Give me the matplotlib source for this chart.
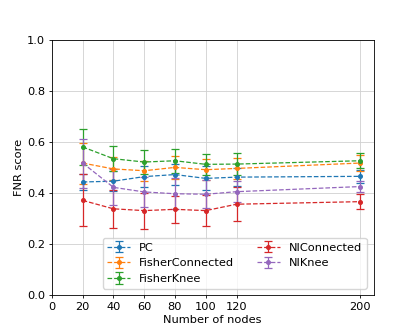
import numpy as np
import matplotlib
matplotlib.use("Agg")
import matplotlib.pyplot as plt

nodes = [20, 40, 60, 80, 100, 120, 200]

pc = [0.444, 0.447, 0.465, 0.473, 0.458, 0.463, 0.466]
pc_err = [0.030, 0.040, 0.040, 0.040, 0.047, 0.035, 0.025]

fisher_connected = [0.518, 0.495, 0.488, 0.501, 0.492, 0.497, 0.518]
fisher_connected_err = [0.080, 0.045, 0.040, 0.045, 0.040, 0.040, 0.030]

fisher_knee = [0.581, 0.535, 0.522, 0.527, 0.513, 0.514, 0.527]
fisher_knee_err = [0.070, 0.048, 0.048, 0.046, 0.042, 0.043, 0.030]

ni_connected = [0.372, 0.339, 0.332, 0.337, 0.332, 0.357, 0.367]
ni_connected_err = [0.102, 0.075, 0.070, 0.053, 0.062, 0.067, 0.030]

ni_knee = [0.518, 0.423, 0.405, 0.398, 0.396, 0.406, 0.426]
ni_knee_err = [0.096, 0.070, 0.060, 0.060, 0.055, 0.040, 0.020]

xticks = [0, 20, 40, 60, 80, 100, 120, 200]

plt.rcParams["font.size"] = 8.2
plt.rcParams["axes.linewidth"] = 0.6
plt.rcParams["xtick.major.size"] = 2.4
plt.rcParams["ytick.major.size"] = 2.4
plt.rcParams["xtick.major.width"] = 0.6
plt.rcParams["ytick.major.width"] = 0.6
plt.rcParams["xtick.major.pad"] = 2.3
plt.rcParams["ytick.major.pad"] = 2.3

fig = plt.figure(figsize=(4.15, 3.32), dpi=100)
ax = plt.gca()

series = [
    ("PC", pc, pc_err),
    ("FisherConnected", fisher_connected, fisher_connected_err),
    ("FisherKnee", fisher_knee, fisher_knee_err),
    ("NIConnected", ni_connected, ni_connected_err),
    ("NIKnee", ni_knee, ni_knee_err),
]
colors = ["tab:blue", "tab:orange", "tab:green", "tab:red", "tab:purple"]

for (name, vals, errs), c in zip(series, colors):
    ax.errorbar(nodes, vals, yerr=errs, label=name, color=c, linestyle="--",
                marker="o", markersize=2.6, linewidth=0.9, elinewidth=0.9,
                capsize=3.2, capthick=0.9)

ax.set_ylim(0, 1.0)
ax.set_xlim(left=0)
ax.set_xticks(xticks)
ax.grid(True, color="#d0d0d0", linewidth=0.6)
ax.set_axisbelow(True)
ax.set_xlabel("Number of nodes", labelpad=2)
ax.set_ylabel("FNR score", labelpad=2)
ax.legend(loc="lower right", ncol=2, borderaxespad=0.6)

plt.savefig("out.png")
